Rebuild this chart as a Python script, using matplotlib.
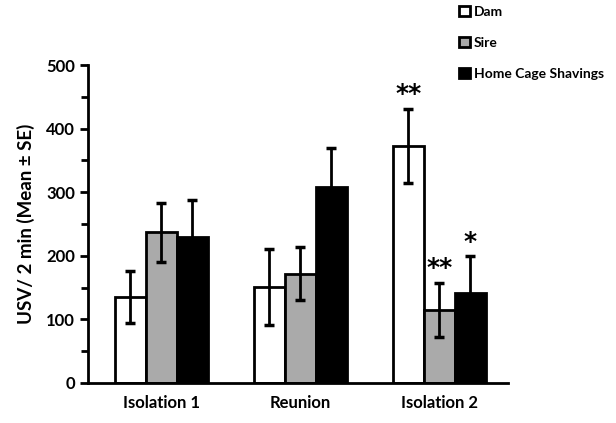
import matplotlib.pyplot as plt
import numpy as np
from matplotlib.patches import Patch

plt.rcParams['font.family'] = ['Lato', 'DejaVu Sans']
plt.rcParams['font.weight'] = 'bold'

grupy = ["Isolation 1", "Reunion", "Isolation 2"]
serie = ["Dam", "Sire", "Home Cage Shavings"]
kolory = ["white", "#aaaaaa", "black"]

dam = [135, 151, 373]
dam_se = [41, 59, 58]
sire = [237, 172, 115]
sire_se = [46, 42, 43]
hcs = [230, 309, 142]
hcs_se = [58, 60, 57]

# gwiazdki istotnosci: (seria, grupa, tekst)
gwiazdki = [(0, 2, "**"), (1, 2, "**"), (2, 2, "*")]

wartosci = [dam, sire, hcs]
bledy = [dam_se, sire_se, hcs_se]

fig = plt.figure(figsize=(6.16, 4.23), dpi=100)
ax = fig.add_axes([0.143, 0.0946, 0.682, 0.7514])

x = np.arange(len(grupy))
w = 0.223
for i in range(3):
    pos = x + (i - 1) * w
    ax.bar(pos, wartosci[i], width=w, color=kolory[i], edgecolor="black",
           linewidth=2, zorder=2)
    ax.errorbar(pos, wartosci[i], yerr=bledy[i], fmt="none", ecolor="black",
                elinewidth=2, capsize=3.5, capthick=2.5, zorder=3)

for s, g, t in gwiazdki:
    y = wartosci[s][g] + bledy[s][g] + 4
    ax.text(x[g] + (s - 1) * w, y, t, ha="center", va="bottom",
            fontsize=18, fontweight="bold", family="DejaVu Sans")

ax.set_xlim(-0.525, 2.496)
ax.set_ylim(0, 500)
ax.set_yticks(range(0, 501, 100))
ax.set_yticks(range(50, 500, 100), minor=True)
ax.tick_params(axis="y", which="both", direction="out", width=2, labelsize=12)
ax.tick_params(axis="y", which="major", length=6)
ax.tick_params(axis="y", which="minor", length=5)
ax.set_xticks(x)
ax.set_xticklabels(grupy, fontsize=12, fontweight="bold")
ax.tick_params(axis="x", length=0, pad=9)
for lab in ax.get_yticklabels():
    lab.set_fontweight("bold")
ax.spines["top"].set_visible(False)
ax.spines["right"].set_visible(False)
ax.spines["left"].set_linewidth(2)
ax.spines["bottom"].set_linewidth(2)
ax.set_ylabel("USV/ 2 min (Mean ± SE)", fontsize=13.5, fontweight="bold",
              labelpad=8)

uchwyty = [Patch(facecolor=k, edgecolor="black", linewidth=2) for k in kolory]
fig.legend(uchwyty, serie, loc="upper left", bbox_to_anchor=(0.725, 1.015),
           frameon=False, prop={"size": 10, "weight": "bold"},
           handlelength=0.75, handleheight=0.75, handletextpad=0.3,
           labelspacing=1.35)

fig.savefig("out.png", dpi=100)
